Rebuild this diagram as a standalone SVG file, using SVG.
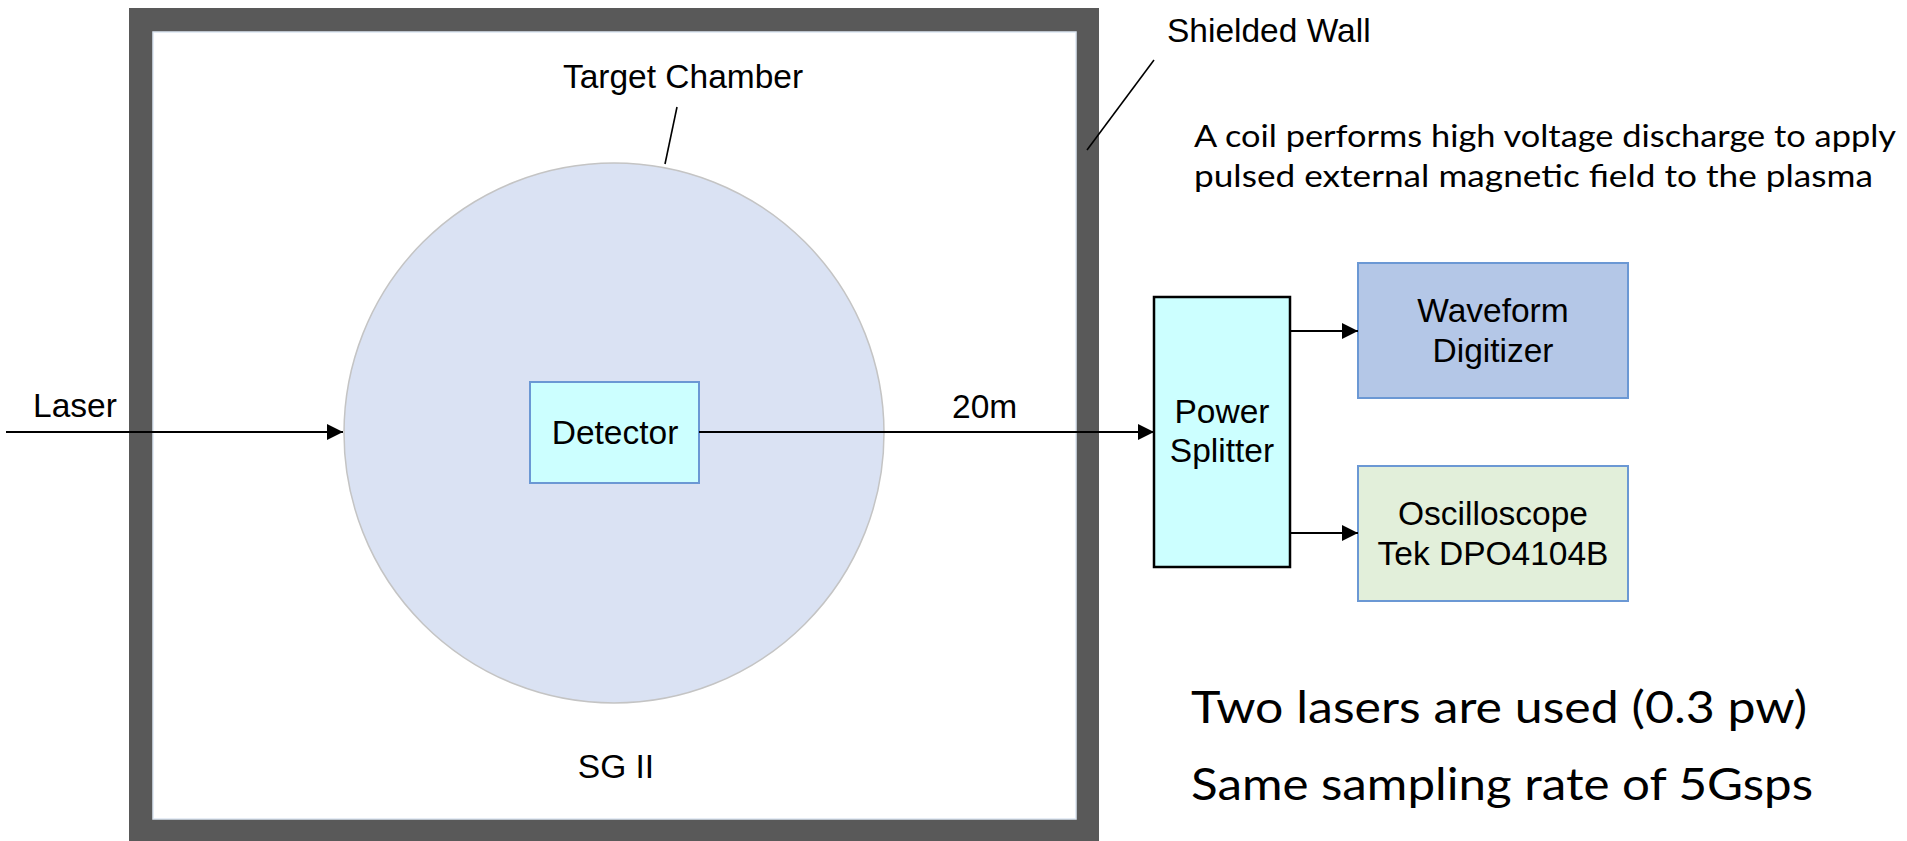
<svg xmlns="http://www.w3.org/2000/svg" width="1907" height="841" viewBox="0 0 1907 841">
  <defs>
    <marker id="arrow" markerUnits="userSpaceOnUse" markerWidth="17" markerHeight="16" refX="16" refY="8" orient="auto">
      <path d="M0,0 L16,8 L0,16 Z" fill="#000"/>
    </marker>
    <style>
      .lbl { font-family: "Liberation Sans", Arial, sans-serif; font-size: 33.5px; fill: #000; }
      .mid { text-anchor: middle; }
      .note { font-family: Lato, "Open Sans", sans-serif; fill: #000; }
      .conn { stroke: #000; stroke-width: 2.2; fill: none; }
      .leader { stroke: #000; stroke-width: 1.6; fill: none; }
      .box { stroke: #6b98d4; stroke-width: 2; }
    </style>
  </defs>
  <rect x="0" y="0" width="1907" height="841" fill="#fff"/>

  <g id="shielded-wall">
    <rect x="129" y="8" width="970" height="845" fill="#595959"/>
    <rect x="153" y="32" width="923" height="787" fill="#fff" stroke="#dce6f2" stroke-width="1.5"/>
  </g>

  <g id="target-chamber">
    <circle cx="614" cy="433" r="270" fill="#dae2f3" stroke="#c4c4c4" stroke-width="1.5"/>
  </g>

  <g id="detector">
    <rect class="box" x="530" y="382" width="169" height="101" fill="#ccffff"/>
    <text class="lbl mid" x="615" y="444">Detector</text>
  </g>

  <g id="power-splitter">
    <rect x="1154" y="297" width="136" height="270" fill="#ccffff" stroke="#000" stroke-width="2.5"/>
    <text class="lbl mid" x="1222" y="423">Power</text>
    <text class="lbl mid" x="1222" y="462">Splitter</text>
  </g>

  <g id="waveform-digitizer">
    <rect class="box" x="1358" y="263" width="270" height="135" fill="#b4c7e7"/>
    <text class="lbl mid" x="1493" y="322">Waveform</text>
    <text class="lbl mid" x="1493" y="362">Digitizer</text>
  </g>

  <g id="oscilloscope">
    <rect class="box" x="1358" y="466" width="270" height="135" fill="#e2efda"/>
    <text class="lbl mid" x="1493" y="525">Oscilloscope</text>
    <text class="lbl mid" x="1493" y="565">Tek DPO4104B</text>
  </g>

  <g id="connectors">
    <line class="conn" x1="6" y1="432" x2="343" y2="432" marker-end="url(#arrow)"/>
    <line class="conn" x1="699" y1="432" x2="1154" y2="432" marker-end="url(#arrow)"/>
    <line class="conn" x1="1290" y1="331" x2="1358" y2="331" marker-end="url(#arrow)"/>
    <line class="conn" x1="1290" y1="533" x2="1358" y2="533" marker-end="url(#arrow)"/>
    <line class="leader" x1="677" y1="107" x2="665" y2="164"/>
    <line class="leader" x1="1154" y1="60" x2="1087" y2="150"/>
  </g>

  <g id="labels">
    <text class="lbl" x="33" y="417">Laser</text>
    <text class="lbl" x="952" y="418">20m</text>
    <text class="lbl mid" x="683" y="88">Target Chamber</text>
    <text class="lbl" x="1167" y="42">Shielded Wall</text>
    <text class="lbl mid" x="616" y="778">SG II</text>
    <text class="note" x="1194" y="147" font-size="31" textLength="702" lengthAdjust="spacingAndGlyphs">A coil performs high voltage discharge to apply</text>
    <text class="note" x="1194" y="187" font-size="31" textLength="679" lengthAdjust="spacingAndGlyphs">pulsed external magnetic field to the plasma</text>
    <text class="note" x="1191" y="723" font-size="44" textLength="616" lengthAdjust="spacingAndGlyphs">Two lasers are used (0.3 pw)</text>
    <text class="note" x="1191" y="800" font-size="44" textLength="622" lengthAdjust="spacingAndGlyphs">Same sampling rate of 5Gsps</text>
  </g>
</svg>
